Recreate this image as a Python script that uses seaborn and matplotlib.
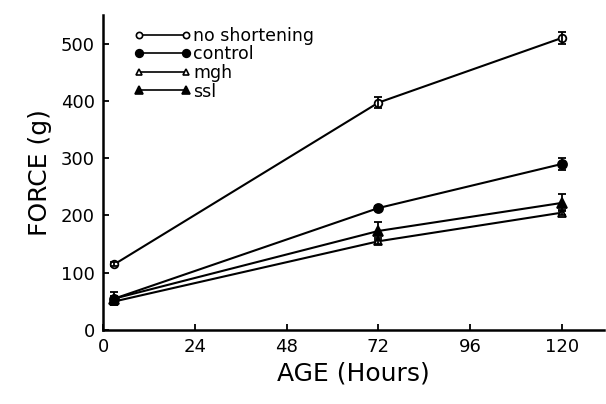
import matplotlib
matplotlib.use("Agg")
import matplotlib.pyplot as plt
import matplotlib.lines as mlines
import seaborn as sns
import pandas as pd

sns.set_theme(style="ticks")
plt.rcParams['font.family'] = ['DejaVu Sans']
plt.rcParams['text.color'] = 'black'

hours = [3, 72, 120]
series = ["no shortening", "control", "mgh", "ssl"]
no_short = [115, 397, 510]
no_short_err = [3, 10, 10]
control = [55, 213, 290]
control_err = [4, 3, 10]
mgh = [50, 155, 205]
mgh_err = [5, 5, 5]
ssl = [55, 173, 222]
ssl_err = [12, 15, 15]

rows = []
for name, vals, errs in [("no shortening", no_short, no_short_err),
                         ("control", control, control_err),
                         ("mgh", mgh, mgh_err),
                         ("ssl", ssl, ssl_err)]:
    for h, v, e in zip(hours, vals, errs):
        rows.append({"hours": h, "force": v, "err": e, "group": name})
df = pd.DataFrame(rows)

fig = plt.figure(figsize=(6.06, 4.04), dpi=100)
ax = fig.add_axes([0.170, 0.183, 0.827, 0.780])

styles = {
    "no shortening": dict(marker="o", mfc="white", ms=5.5),
    "control": dict(marker="o", mfc="black", ms=6.5),
    "mgh": dict(marker="^", mfc="white", ms=5.5),
    "ssl": dict(marker="^", mfc="black", ms=6.5),
}

for name in series:
    sub = df[df.group == name]
    sns.lineplot(data=sub, x="hours", y="force", ax=ax, color="black",
                 lw=1.5, label=name, mec="black", mew=1.3,
                 **styles[name], legend=False)
    ax.errorbar(sub.hours, sub.force, yerr=sub.err, fmt="none",
                ecolor="black", elinewidth=1.3, capsize=3, capthick=1.3)

handles = []
for name in series:
    st = dict(styles[name])
    st["ms"] = st["ms"] - 1
    handles.append(mlines.Line2D([], [], color="black", lw=1.2,
                                 mec="black", mew=1.2, **st))
leg = ax.legend(handles, series, loc="upper left", bbox_to_anchor=(0.04, 0.995),
                frameon=False, numpoints=2, handlelength=3.3,
                handletextpad=0.15, labelspacing=0.03, fontsize=12.5,
                borderaxespad=0.2)
for t in leg.get_texts():
    t.set_color("black")

ax.set_xlim(0, 131)
ax.set_ylim(0, 550)
ax.set_xticks([0, 24, 48, 72, 96, 120])
ax.set_yticks([0, 100, 200, 300, 400, 500])
ax.tick_params(direction="in", length=4, width=1.3, labelsize=13,
               colors="black", pad=6)
for s in ["top", "right"]:
    ax.spines[s].set_visible(False)
for s in ["left", "bottom"]:
    ax.spines[s].set_linewidth(1.8)
    ax.spines[s].set_color("black")
ax.set_xlabel("AGE (Hours)", fontsize=18, color="black", labelpad=4)
ax.set_ylabel("FORCE (g)", fontsize=18, color="black", labelpad=6)

fig.savefig("out.png", dpi=100)
